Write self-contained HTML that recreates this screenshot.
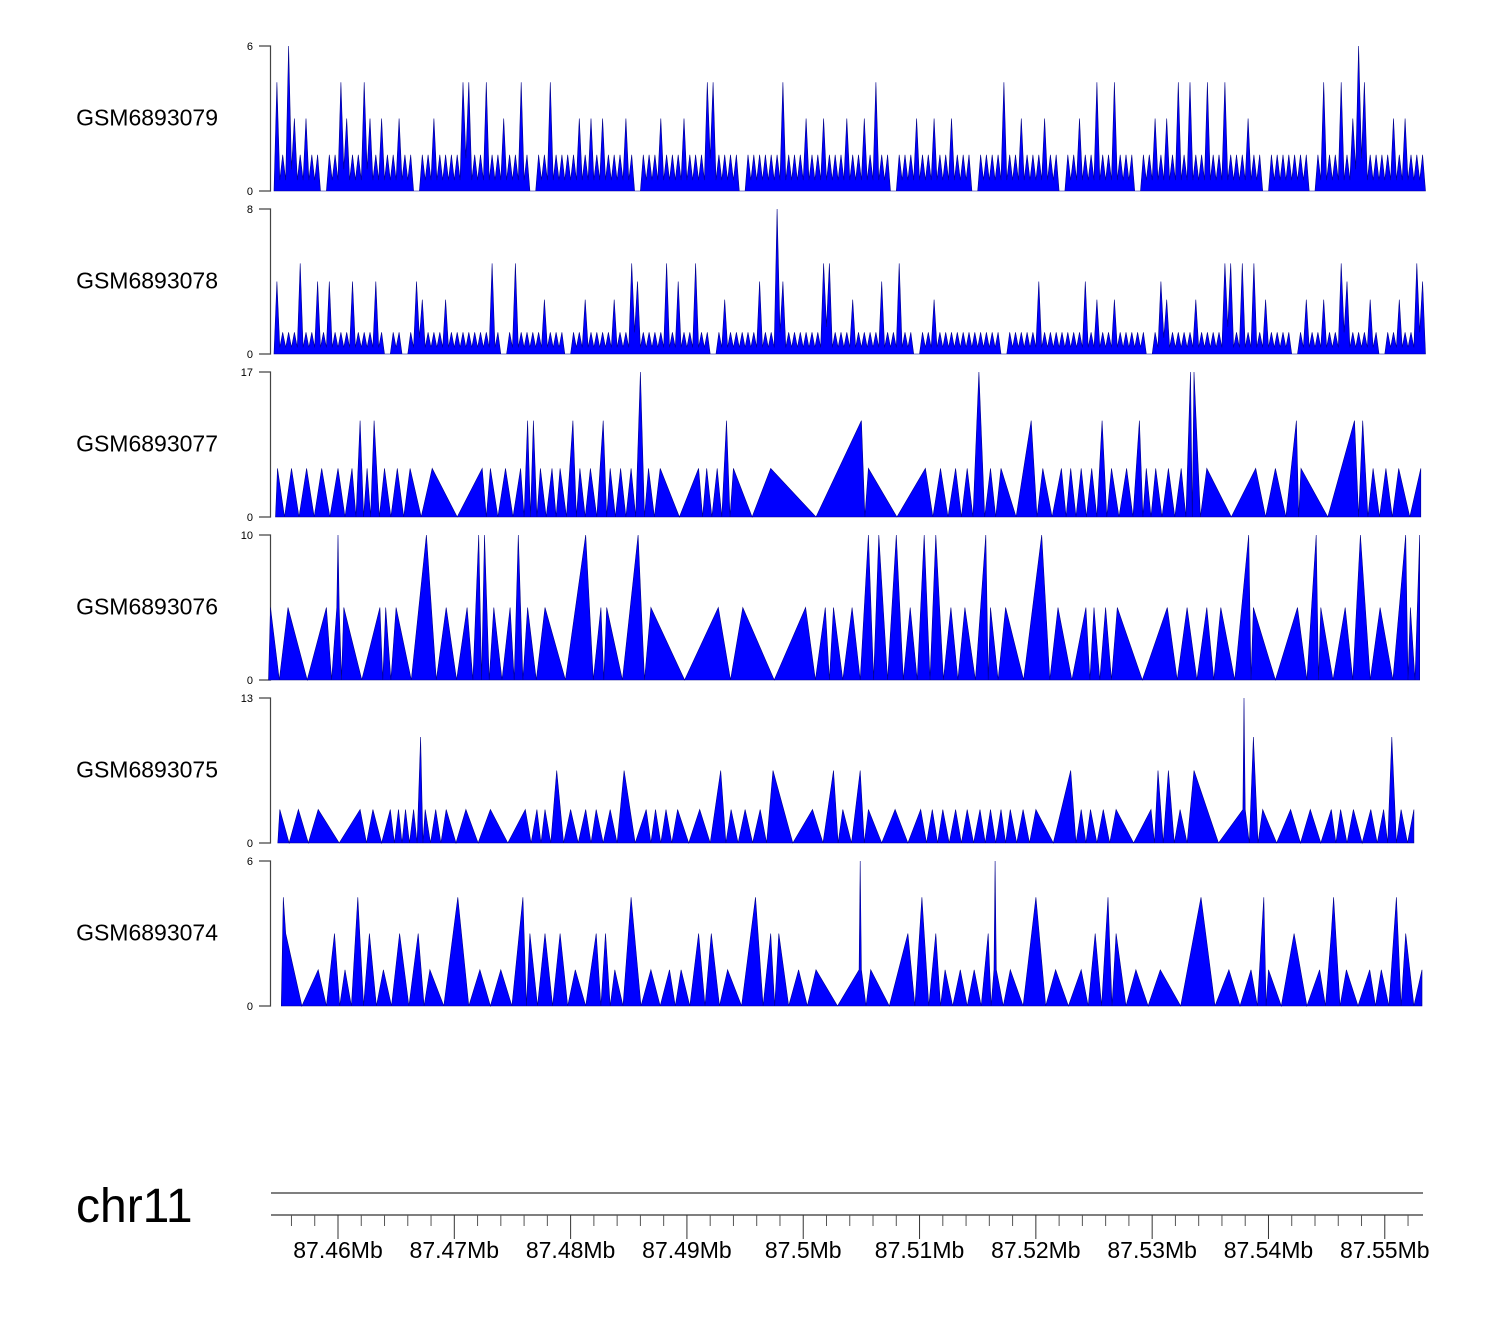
<!DOCTYPE html>
<html><head><meta charset="utf-8">
<style>
html,body{margin:0;padding:0;background:#fff;}
svg{display:block;font-family:"Liberation Sans",Arial,sans-serif;}
</style></head>
<body>
<svg id="chart" width="1500" height="1320" viewBox="0 0 1500 1320" xmlns="http://www.w3.org/2000/svg"></svg>
<script>
// ---- data ----
const trackNames = ["GSM6893079","GSM6893078","GSM6893077","GSM6893076","GSM6893075","GSM6893074"];
const trackMax = [6, 8, 17, 10, 13, 6];
// binned dense tracks (0.5 kb bins starting at 87454.5 kb)
const binStartKb = 4.5;
const binSizeKb = 0.5;
const track1Bins = [4.5,1.5,6,3,1.5,3,1.5,1.5,0,1.5,1.5,4.5,3,1.5,1.5,4.5,3,1.5,3,1.5,
1.5,3,1.5,1.5,0,1.5,1.5,3,1.5,1.5,1.5,1.5,4.5,4.5,1.5,1.5,4.5,1.5,1.5,3,
1.5,1.5,4.5,1.5,0,1.5,1.5,4.5,1.5,1.5,1.5,1.5,3,1.5,3,1.5,3,1.5,1.5,1.5,
3,1.5,0,1.5,1.5,1.5,3,1.5,1.5,1.5,3,1.5,1.5,1.5,4.5,4.5,1.5,1.5,1.5,1.5,
0,1.5,1.5,1.5,1.5,1.5,1.5,4.5,1.5,1.5,1.5,3,1.5,1.5,3,1.5,1.5,1.5,3,1.5,
1.5,3,1.5,4.5,1.5,1.5,0,1.5,1.5,1.5,3,1.5,1.5,3,1.5,1.5,3,1.5,1.5,1.5,
0,1.5,1.5,1.5,1.5,4.5,1.5,1.5,3,1.5,1.5,1.5,3,1.5,1.5,0,1.5,1.5,3,1.5,
1.5,4.5,1.5,1.5,4.5,1.5,1.5,1.5,0,1.5,1.5,3,1.5,3,1.5,4.5,1.5,4.5,1.5,1.5,
4.5,1.5,1.5,4.5,1.5,1.5,1.5,3,1.5,1.5,0,1.5,1.5,1.5,1.5,1.5,1.5,1.5,0,1.5,
4.5,1.5,1.5,4.5,1.5,3,6,4.5,1.5,1.5,1.5,1.5,3,1.5,3,1.5,1.5,1.5];
const track2Bins = [4,1.2,1.2,1.2,5,1.2,1.2,4,1.2,4,1.2,1.2,1.2,4,1.2,1.2,1.2,4,1.2,0,
1.2,1.2,0,1.2,4,3,1.2,1.2,1.2,3,1.2,1.2,1.2,1.2,1.2,1.2,1.2,5,1.2,0,
1.2,5,1.2,1.2,1.2,1.2,3,1.2,1.2,1.2,0,1.2,1.2,3,1.2,1.2,1.2,1.2,3,1.2,
1.2,5,4,1.2,1.2,1.2,1.2,5,1.2,4,1.2,1.2,5,1.2,1.2,0,1.2,3,1.2,1.2,
1.2,1.2,1.2,4,1.2,1.2,8,4,1.2,1.2,1.2,1.2,1.2,1.2,5,5,1.2,1.2,1.2,3,
1.2,1.2,1.2,1.2,4,1.2,1.2,5,1.2,1.2,0,1.2,1.2,3,1.2,1.2,1.2,1.2,1.2,1.2,
1.2,1.2,1.2,1.2,1.2,0,1.2,1.2,1.2,1.2,1.2,4,1.2,1.2,1.2,1.2,1.2,1.2,1.2,4,
1.2,3,1.2,1.2,3,1.2,1.2,1.2,1.2,1.2,0,1.2,4,3,1.2,1.2,1.2,1.2,3,1.2,
1.2,1.2,1.2,5,5,1.2,5,1.2,5,1.2,3,1.2,1.2,1.2,1.2,0,1.2,3,1.2,1.2,
3,1.2,1.2,5,4,1.2,1.2,1.2,3,1.2,0,1.2,1.2,3,1.2,1.2,5,4];
// sparse tracks: peak positions (kb offset from 87450 kb) and heights
const track3Pos = [4.8,6.0,7.3,8.6,10.0,11.2,11.9,12.5,13.1,14.0,15.1,16.2,18.1,22.4,23.1,24.4,25.7,26.3,26.8,27.4,28.4,29.1,30.2,30.8,31.7,32.8,33.4,34.3,35.2,36.0,36.7,37.7,41.0,41.7,42.6,43.4,44.0,47.2,55.0,55.6,60.5,61.8,63.1,64.1,65.1,66.1,67.0,69.6,70.6,72.2,73.0,73.9,74.8,75.7,76.5,77.8,78.9,79.5,80.3,81.4,82.5,83.3,83.6,84.7,88.9,90.6,92.4,92.8,97.4,98.1,99.0,100.1,101.2,103.1];
const track3Val = [5.7,5.7,5.7,5.7,5.7,5.7,11.3,5.7,11.3,5.7,5.7,5.7,5.7,5.7,5.7,5.7,5.7,11.3,11.3,5.7,5.7,5.7,11.3,5.7,5.7,11.3,5.7,5.7,5.7,17,5.7,5.7,5.7,5.7,5.7,11.3,5.7,5.7,11.3,5.7,5.7,5.7,5.7,5.7,17,5.7,5.7,11.3,5.7,5.7,5.7,5.7,5.7,11.3,5.7,5.7,11.3,5.7,5.7,5.7,5.7,17,17,5.7,5.7,5.7,11.3,5.7,11.3,11.3,5.7,5.7,5.7,5.7];
const track4Pos = [4.2,5.7,9.0,9.9,10.0,10.1,10.5,13.6,14.1,15.0,17.6,19.3,21.1,22.1,22.6,23.4,24.8,25.5,26.3,27.8,31.3,32.6,33.1,35.8,36.9,42.7,44.8,50.2,51.9,52.6,54.2,55.6,56.5,58.0,59.2,60.4,61.4,62.7,63.9,65.7,66.1,67.4,70.5,71.9,74.3,75.0,76.0,77.0,81.3,83.0,84.7,85.9,88.3,88.7,92.5,94.1,94.5,96.6,97.9,99.6,101.8,102.2,103.0];
const track4Val = [5,5,5,5,10,5,5,5,5,5,10,5,5,10,10,5,5,10,5,5,10,5,5,10,5,5,5,5,5,5,5,10,10,10,5,10,10,5,5,10,5,5,10,5,5,5,5,5,5,5,5,5,10,5,5,10,5,5,10,5,10,5,10];
const track5Pos = [5.0,6.6,8.3,11.9,13.0,14.5,15.2,15.8,16.5,17.1,17.5,18.4,19.3,21.0,23.1,26.1,27.1,27.8,28.8,30.0,31.3,32.2,33.4,34.6,36.5,37.3,38.2,39.2,41.1,42.9,43.8,45.0,46.3,47.4,50.8,52.6,53.4,54.9,55.6,57.9,60.1,61.1,62.0,63.1,64.1,65.2,66.1,67.0,67.8,68.9,70.0,73.0,73.9,74.7,75.8,76.9,79.9,80.5,81.4,82.4,83.6,87.8,87.9,88.0,88.7,89.5,91.9,93.6,95.4,96.2,97.3,98.8,99.9,100.6,101.4,102.5];
const track5Val = [3,3,3,3,3,3,3,3,3,9.5,3,3,3,3,3,3,3,3,6.5,3,3,3,3,6.5,3,3,3,3,3,6.5,3,3,3,6.5,3,6.5,3,6.5,3,3,3,3,3,3,3,3,3,3,3,3,3,6.5,3,3,3,3,3,6.5,6.5,3,6.5,3,13,3,9.5,3,3,3,3,3,3,3,3,9.5,3,3];
const track6Pos = [5.3,5.5,8.3,9.7,10.6,11.7,12.7,13.9,15.3,16.9,17.9,20.3,22.2,24.0,25.9,26.5,27.8,29.1,30.4,32.2,33.0,33.8,35.2,36.9,38.5,39.5,41.0,42.1,43.5,45.9,47.2,47.9,49.6,51.1,54.8,54.9,55.0,55.8,59.0,60.2,61.4,62.2,63.5,64.7,65.9,66.4,66.5,66.6,67.8,70.0,71.7,73.9,75.1,76.2,76.9,78.6,80.7,84.2,86.6,88.5,89.6,90.0,92.2,94.4,95.4,95.6,96.7,98.7,99.7,101.0,101.8,103.2];
const track6Val = [4.5,3,1.5,3,1.5,4.5,3,1.5,3,3,1.5,4.5,1.5,1.5,4.5,3,3,3,1.5,3,3,1.5,4.5,1.5,1.5,1.5,3,3,1.5,4.5,3,3,1.5,1.5,1.5,6,1.5,1.5,3,4.5,3,1.5,1.5,1.5,3,1.5,6,1.5,1.5,4.5,1.5,1.5,3,4.5,3,1.5,1.5,4.5,1.5,1.5,4.5,1.5,3,1.5,3,4.5,1.5,1.5,1.5,4.5,3,1.5];
const axisMajorLabels = ["87.46Mb","87.47Mb","87.48Mb","87.49Mb","87.5Mb","87.51Mb","87.52Mb","87.53Mb","87.54Mb","87.55Mb"];
const axisMajorKb = [10,20,30,40,50,60,70,80,90,100];
const axisMinorKb = [6,8,12,14,16,18,22,24,26,28,32,34,36,38,42,44,46,48,52,54,56,58,62,64,66,68,72,74,76,78,82,84,86,88,92,94,96,98,102];

// ---- scales ----
const X0 = 271, X1 = 1422;
const KB0 = 4.24, KB1 = 103.2;
function xs(kb){ return X0 + (kb-KB0)/(KB1-KB0)*(X1-X0); }
const trackTop = [46,209,372,535,698,861];
const trackH = 145;
function ys(i,v){ return trackTop[i]+trackH - v/trackMax[i]*trackH; }

const NS="http://www.w3.org/2000/svg";
const svg=document.getElementById('chart');
function mk(tag,attrs){const e=document.createElementNS(NS,tag);for(const k in attrs)e.setAttribute(k,attrs[k]);svg.appendChild(e);return e;}

function binPoly(i,bins){
  const base=ys(i,0);
  let pts=[[xs(binStartKb),base]];
  bins.forEach((v,j)=>{
    const s=binStartKb+j*binSizeKb;
    pts.push([xs(s+binSizeKb/2),ys(i,v)]);
    const nx = j<bins.length-1 ? bins[j+1] : 0;
    pts.push([xs(s+binSizeKb),ys(i,Math.min(v,nx)*0.3)]);
  });
  pts.push([xs(binStartKb+bins.length*binSizeKb),base]);
  return pts;
}
function peakPoly(i,pos,val){
  const base=ys(i,0);
  let pts=[[xs(pos[0])-2,base]];
  pos.forEach((p,j)=>{
    pts.push([xs(p),ys(i,val[j])]);
    if(j<pos.length-1 && pos[j+1]-p>0.25){pts.push([xs((p+pos[j+1])/2),base]);}
  });
  pts.push([xs(pos[pos.length-1]),base]);
  return pts;
}
const polys=[binPoly(0,track1Bins),binPoly(1,track2Bins),peakPoly(2,track3Pos,track3Val),peakPoly(3,track4Pos,track4Val),peakPoly(4,track5Pos,track5Val),peakPoly(5,track6Pos,track6Val)];

polys.forEach((pts,i)=>{
  const top=trackTop[i], bot=top+trackH;
  const lab=mk('text',{x:218,y:top+trackH/2+7,'font-size':23,'text-anchor':'end',fill:'#000'});
  lab.textContent=trackNames[i];
  
  
  const ax=mk('path',{d:`M259 ${top}H270.5V${bot}H259`,stroke:'#444',fill:'none','stroke-width':1.2});
  
  
  const tMax=mk('text',{x:253,y:top+4,'font-size':11,'text-anchor':'end'});
  tMax.textContent=trackMax[i];
  
  
  const tMin=mk('text',{x:253,y:bot+4,'font-size':11,'text-anchor':'end'});
  tMin.textContent='0';
  
  
  const p=mk('polygon',{points:pts.map(q=>q[0].toFixed(1)+','+q[1].toFixed(1)).join(' '),fill:'#0000ff',stroke:'#00008b','stroke-width':0.6,'stroke-linejoin':'miter'});
  
  
});

// genome axis
const chr=mk('text',{x:76,y:1222,'font-size':48});
chr.textContent='chr11';


const l1=mk('line',{x1:271,x2:1423,y1:1193,y2:1193,stroke:'#333','stroke-width':1.2});


const l2=mk('line',{x1:271,x2:1423,y1:1215,y2:1215,stroke:'#333','stroke-width':1.2});


axisMinorKb.forEach(k=>{
  const t=mk('line',{x1:xs(k),x2:xs(k),y1:1215,y2:1226,stroke:'#555','stroke-width':1});
  
  
});
axisMajorKb.forEach((k,j)=>{
  const t=mk('line',{x1:xs(k),x2:xs(k),y1:1215,y2:1239,stroke:'#333','stroke-width':1});
  
  
  const tx=mk('text',{x:xs(k),y:1258,'font-size':23,'text-anchor':'middle'});
  tx.textContent=axisMajorLabels[j];
  
  
});
</script>
</body></html>
